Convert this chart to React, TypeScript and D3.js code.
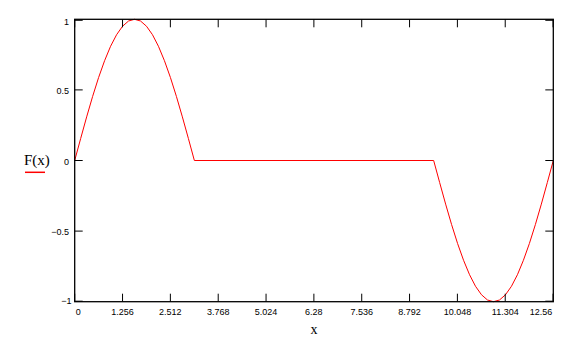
import React from "react";
import * as d3 from "d3";

const xs = [
  0, 0.157, 0.314, 0.471, 0.628, 0.785, 0.942, 1.1, 1.257, 1.414, 1.571, 1.728, 1.885, 2.042, 2.199, 2.356, 2.513, 2.67, 2.827, 2.985, 3.142,
  9.425, 9.582, 9.739, 9.896, 10.053, 10.21, 10.367, 10.524, 10.681, 10.838, 10.996, 11.153, 11.31, 11.467, 11.624, 11.781, 11.938, 12.095, 12.252, 12.409, 12.566,
];
const ys = [
  0, 0.156, 0.309, 0.454, 0.588, 0.707, 0.809, 0.891, 0.951, 0.988, 1, 0.988, 0.951, 0.891, 0.809, 0.707, 0.588, 0.454, 0.309, 0.156, 0,
  0, -0.156, -0.309, -0.454, -0.588, -0.707, -0.809, -0.891, -0.951, -0.988, -1, -0.988, -0.951, -0.891, -0.809, -0.707, -0.588, -0.454, -0.309, -0.156, 0,
];
const xTicks = [0, 1.256, 2.512, 3.768, 5.024, 6.28, 7.536, 8.792, 10.048, 11.304, 12.56];
const xTickLabels = ["0", "1.256", "2.512", "3.768", "5.024", "6.28", "7.536", "8.792", "10.048", "11.304", "12.56"];
const yTicks = [1, 0.5, 0, -0.5, -1];
const yTickLabels = ["1", "0.5", "0", "\u22120.5", "\u22121"];

const L = 74.7, R = 553.3, T = 19.3, B = 301.7;

export default function App() {
  const x = d3.scaleLinear().domain([0, 12.566]).range([L, R]);
  const y = d3.scaleLinear().domain([-1, 1]).range([B, T]);
  const line = d3.line<number>().x((_, i) => x(xs[i])).y((d) => y(d));
  const tickFont = { fontFamily: "'Liberation Sans', Arial, sans-serif", fontSize: 9 };
  return (
    <svg width={573} height={338} style={{ position: "absolute", left: 0, top: 0, background: "#fff" }}>
      <rect x={0} y={0} width={573} height={338} fill="#fff" />
      <path d={line(ys) || ""} fill="none" stroke="#ff0000" strokeWidth={1} />
      <rect x={L} y={T} width={R - L} height={B - T} fill="none" stroke="#000" strokeWidth={1.3} />
      {xTicks.map((t, i) => (
        <g key={"x" + i}>
          <line x1={x(t)} x2={x(t)} y1={B} y2={B - 8} stroke="#000" strokeWidth={1} />
          <line x1={x(t)} x2={x(t)} y1={T} y2={T + 8} stroke="#000" strokeWidth={1} />
          <text
            x={i === 0 ? L + 1 : i === xTicks.length - 1 ? R - 1 : x(t)}
            y={315}
            textAnchor={i === 0 ? "start" : i === xTicks.length - 1 ? "end" : "middle"}
            {...tickFont}
          >
            {xTickLabels[i]}
          </text>
        </g>
      ))}
      {yTicks.map((t, i) => (
        <g key={"y" + i}>
          <line x1={L} x2={L + 8} y1={y(t) + (t === 1 ? 1 : t === -1 ? -0.5 : 0)} y2={y(t) + (t === 1 ? 1 : t === -1 ? -0.5 : 0)} stroke="#000" strokeWidth={1} />
          <line x1={R} x2={R - 8} y1={y(t) + (t === 1 ? 1 : t === -1 ? -0.5 : 0)} y2={y(t) + (t === 1 ? 1 : t === -1 ? -0.5 : 0)} stroke="#000" strokeWidth={1} />
          <text x={t === -1 ? 71.5 : 69} y={t === -1 ? 304 : t === 1 ? 24.5 : y(t) + 4} textAnchor="end" {...tickFont}>
            {yTickLabels[i]}
          </text>
        </g>
      ))}
      <text x={24} y={165} fontFamily="'Liberation Serif', 'Times New Roman', serif" fontSize={15}>
        F(x)
      </text>
      <line x1={25} x2={45} y1={172.3} y2={172.3} stroke="#ff0000" strokeWidth={1.5} />
      <text x={314} y={334} textAnchor="middle" fontFamily="'Liberation Serif', 'Times New Roman', serif" fontSize={14}>
        x
      </text>
    </svg>
  );
}
